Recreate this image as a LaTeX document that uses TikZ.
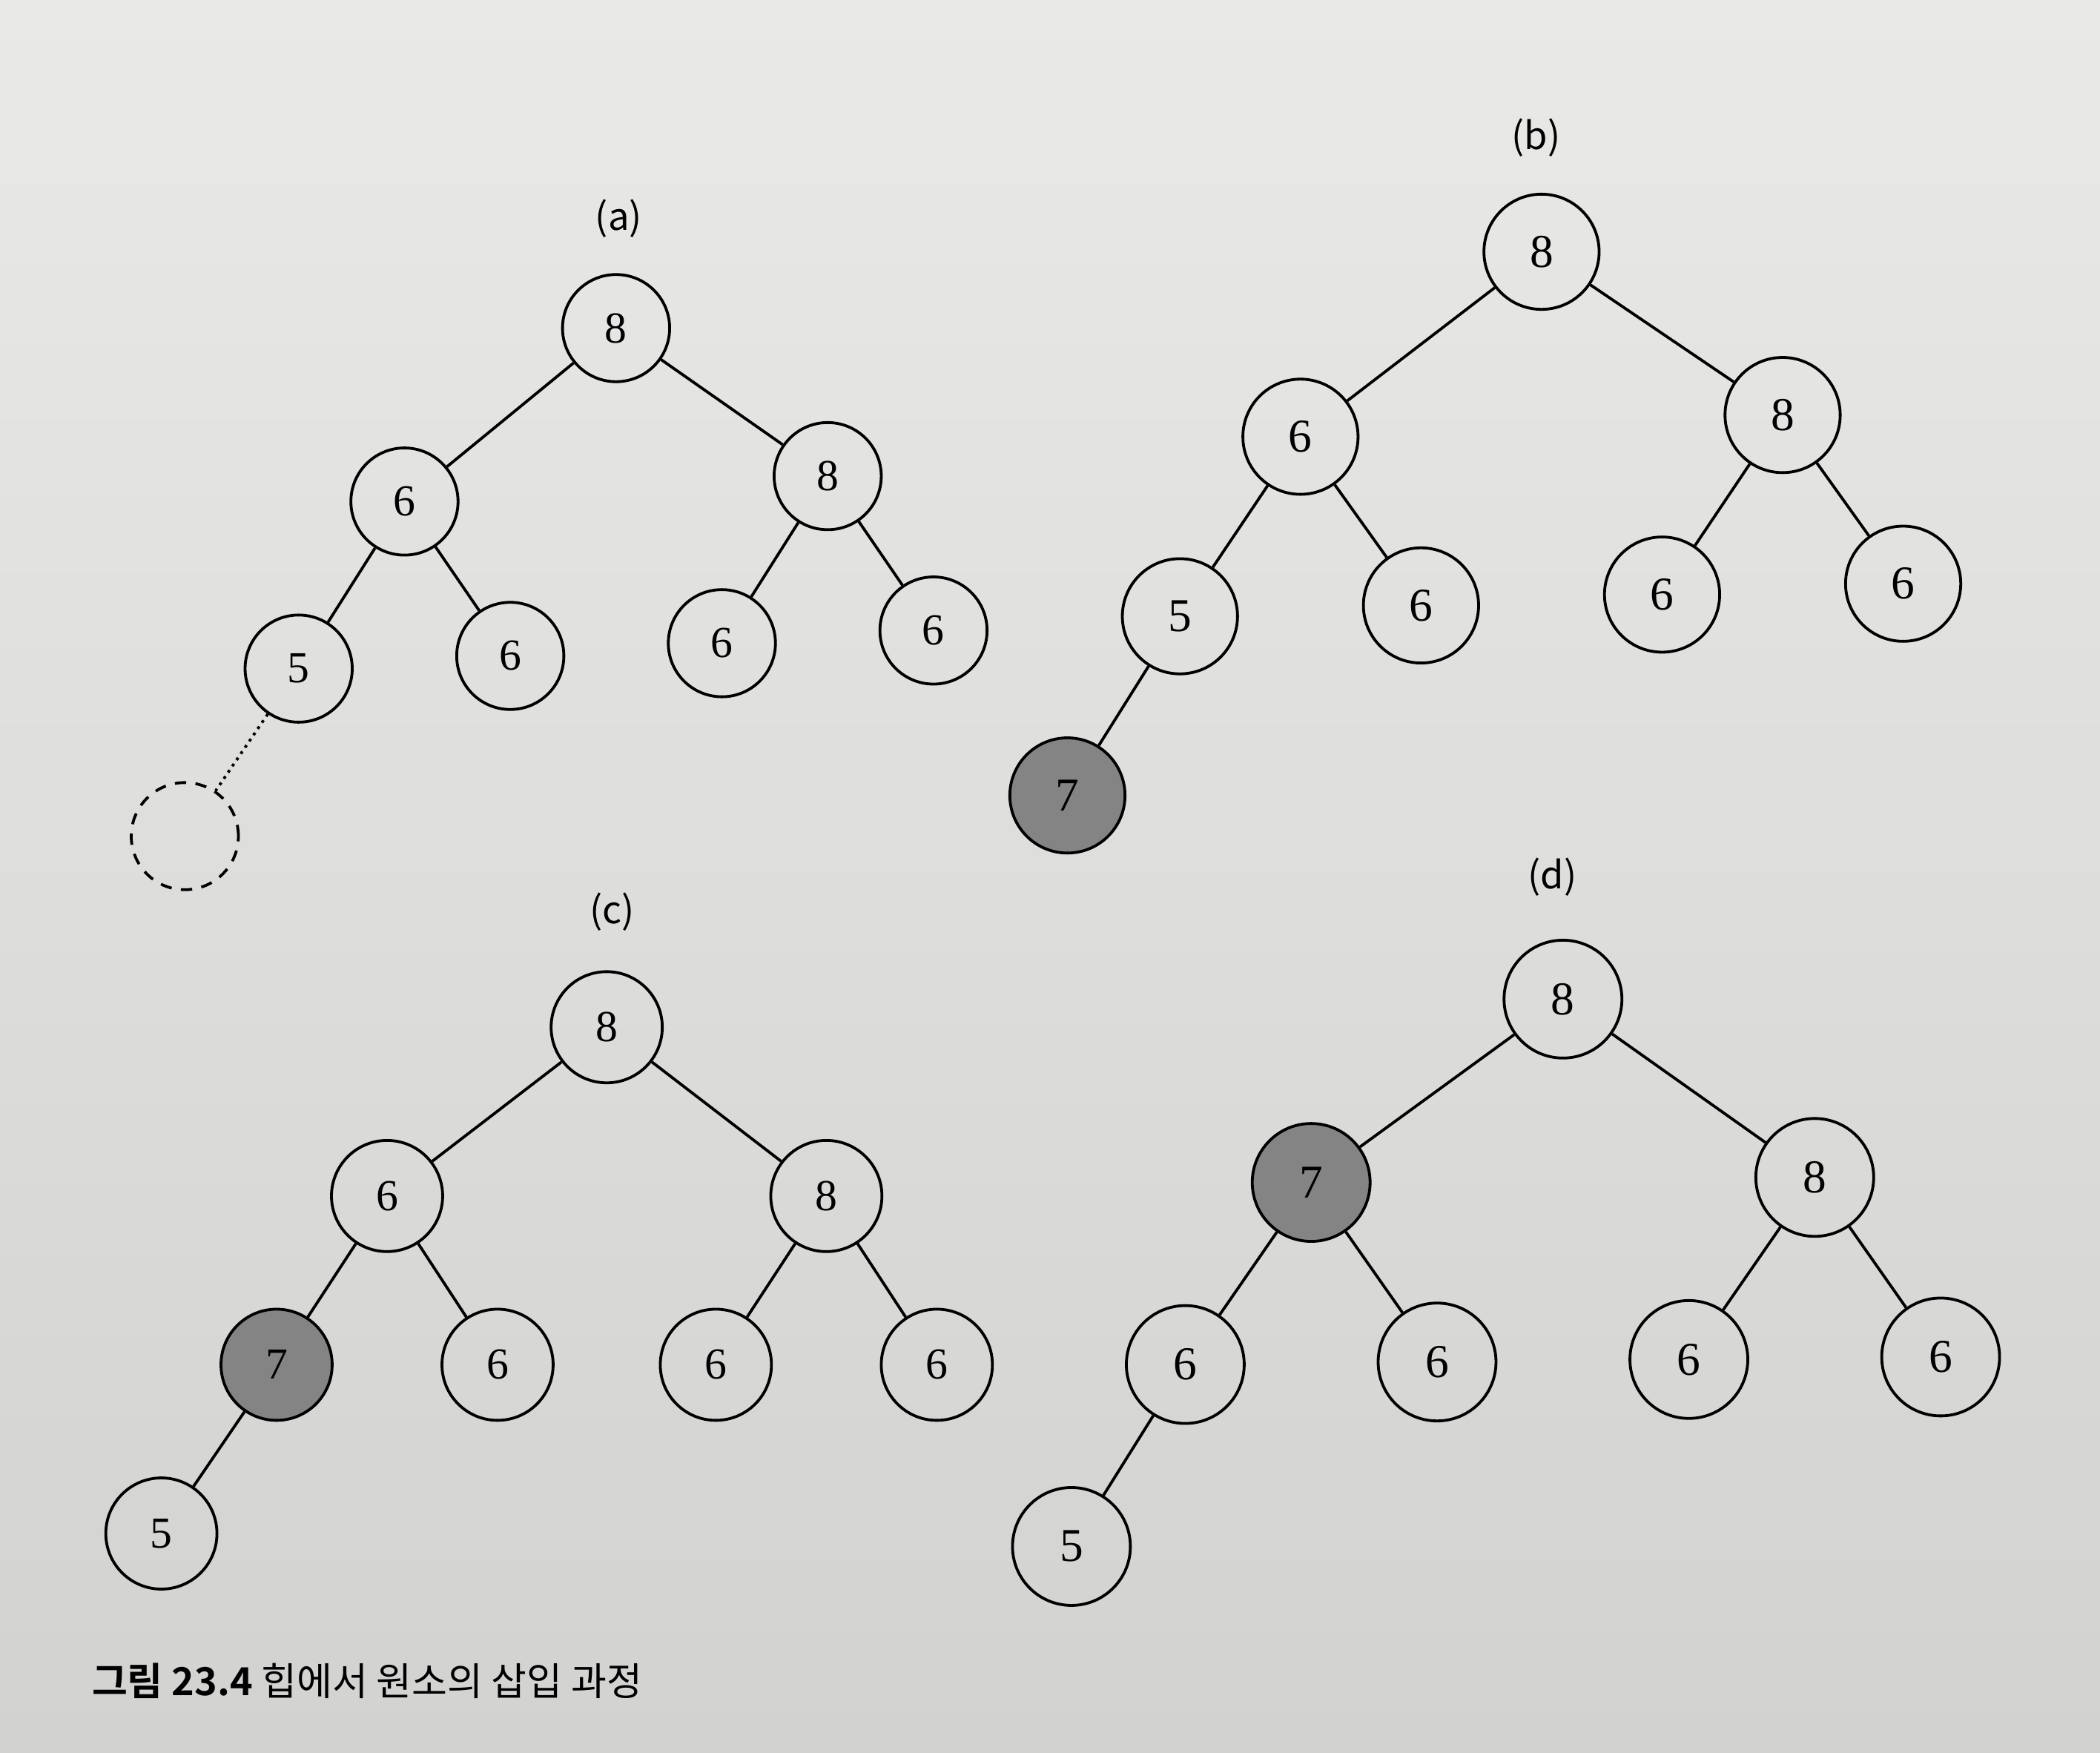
\documentclass[tikz,border=0pt]{standalone}
\usepackage{fontspec}
\setmainfont{Liberation Serif}
\newfontfamily\krfont[BoldFont={Noto Sans CJK KR Bold}]{Noto Sans CJK KR}
\usetikzlibrary{positioning}
\definecolor{nodegray}{RGB}{132,132,132}
\definecolor{bgtop}{RGB}{233,233,231}
\definecolor{bgbot}{RGB}{210,210,209}

\tikzset{heapnode/.style = {circle, draw=black, line width=0.6pt, inner sep=0pt,
            minimum size=0.8cm, font=\fontsize{9.4}{11}\selectfont},
          hot/.style = {heapnode, fill=nodegray},
          hole/.style = {heapnode, dashed, dash pattern=on 2.4pt off 2pt},
          tag/.style = {font=\krfont\fontsize{8}{10}\selectfont}}

\begin{document}
\begin{tikzpicture}[edge from parent/.style={draw, line width=0.6pt}]
        \shade[top color=bgtop, bottom color=bgbot] (0,0) rectangle (15.68,-13.084);
        \useasboundingbox (0,0) rectangle (15.68,-13.084);

        % (a)
        \node [tag] (taga) at (4.62,-1.63) {(a)};
        \begin{scope}[shift={(4.60,-2.45)}, yslant=0.06, level distance=1.2cm,
            level 1/.style={sibling distance=3.16cm},
            level 2/.style={sibling distance=1.58cm},
            level 3/.style={sibling distance=1.70cm}]
        \node [heapnode] (a8) {8}
            child {node [heapnode] (a6) {6}
                child {node [heapnode] (a5) {5}
                    child[edge from parent/.style={draw, densely dotted, line width=0.6pt}] {node [hole] (anew) {}}
                    child[missing]
                }
                child {node [heapnode] (a6r) {6}}
            }
            child {node [heapnode] (a8r) {8}
                child {node [heapnode] (a6s) {6}}
                child {node [heapnode] (a6t) {6}}
            };
        \end{scope}

        % (b)
        \node [tag] (tagb) at (11.47,-1.03) {(b)};
        \begin{scope}[shift={(11.51,-1.88)}, yslant=0.045, level distance=1.3cm,
            heapnode/.append style={minimum size=0.86cm, font=\fontsize{10}{12}\selectfont},
            level 1/.style={sibling distance=3.60cm},
            level 2/.style={sibling distance=1.80cm},
            level 3/.style={sibling distance=1.68cm}]
        \node [heapnode] (b8) {8}
            child {node [heapnode] (b6) {6}
                child {node [heapnode] (b5) {5}
                    child {node [hot] (b7) {7}}
                    child[missing]
                }
                child {node [heapnode] (b6r) {6}}
            }
            child {node [heapnode] (b8r) {8}
                child {node [heapnode] (b6s) {6}}
                child {node [heapnode] (b6t) {6}}
            };
        \end{scope}

        % (c)
        \node [tag] (tagc) at (4.57,-6.81) {(c)};
        \begin{scope}[shift={(4.53,-7.67)}, level distance=1.26cm,
            heapnode/.append style={minimum size=0.83cm},
            level 1/.style={sibling distance=3.28cm},
            level 2/.style={sibling distance=1.65cm},
            level 3/.style={sibling distance=1.72cm}]
        \node [heapnode] (c8) {8}
            child {node [heapnode] (c6) {6}
                child {node [hot] (c7) {7}
                    child {node [heapnode] (c5) {5}}
                    child[missing]
                }
                child {node [heapnode] (c6r) {6}}
            }
            child {node [heapnode] (c8r) {8}
                child {node [heapnode] (c6s) {6}}
                child {node [heapnode] (c6t) {6}}
            };
        \end{scope}

        % (d)
        \node [tag] (tagd) at (11.59,-6.55) {(d)};
        \begin{scope}[shift={(11.67,-7.46)}, yslant=0.01, level distance=1.35cm,
            heapnode/.append style={minimum size=0.88cm, font=\fontsize{10}{12}\selectfont},
            level 1/.style={sibling distance=3.76cm},
            level 2/.style={sibling distance=1.88cm},
            level 3/.style={sibling distance=1.70cm}]
        \node [heapnode] (d8) {8}
            child {node [hot] (d7) {7}
                child {node [heapnode] (d6) {6}
                    child {node [heapnode] (d5) {5}}
                    child[missing]
                }
                child {node [heapnode] (d6r) {6}}
            }
            child {node [heapnode] (d8r) {8}
                child {node [heapnode] (d6s) {6}}
                child {node [heapnode] (d6t) {6}}
            };
        \end{scope}

        \node [anchor=west, inner sep=0pt, font=\krfont\fontsize{8.2}{10}\selectfont] (caption) at (0.68,-12.55)
            {{\bfseries 그림 23.4} 힙에서 원소의 삽입 과정};
\end{tikzpicture}
\end{document}
